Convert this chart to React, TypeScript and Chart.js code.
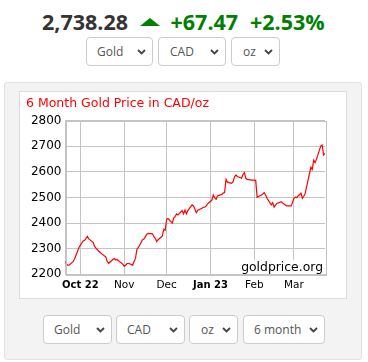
import React, { useEffect, useRef } from "react";
import { Chart, registerables } from "chart.js";

Chart.register(...registerables);

// Day offsets from 1 Oct 2022 (trading days) and the gold price in CAD/oz
const tradeDays = [
  -11, -10, -9, -8, -5, -4, -3, -2, -1,
  2, 3, 4, 5, 6, 9, 10, 11, 12, 13, 16, 17, 18, 19, 20, 23, 24, 25, 26, 27, 30,
  31, 32, 33, 34, 37, 38, 39, 40, 41, 44, 45, 46, 47, 48, 51, 52, 53, 54, 55, 58, 59, 60,
  61, 62, 65, 66, 67, 68, 69, 72, 73, 74, 75, 76, 79, 80, 81, 82, 83, 86, 87, 88, 89, 90,
  93, 94, 95, 96, 97, 100, 101, 102, 103, 104, 107, 108, 109, 110, 111, 114, 115, 116, 117, 118, 121, 122,
  123, 124, 125, 128, 129, 130, 131, 132, 135, 136, 137, 138, 139, 142, 143, 144, 145, 146, 149, 150,
  151, 152, 153, 156, 157, 158, 159, 160, 163, 164, 165, 166, 167, 170, 171, 172, 173,
];
const goldPrices = [
  2252, 2240, 2236, 2236, 2250, 2262, 2275, 2290, 2305,
  2330, 2333, 2340, 2348, 2338, 2325, 2310, 2302, 2297, 2290, 2276, 2272, 2268, 2250, 2243, 2258, 2262, 2256, 2258, 2253, 2240,
  2232, 2235, 2242, 2243, 2236, 2250, 2262, 2298, 2305, 2335, 2338, 2347, 2357, 2360, 2358, 2347, 2340, 2328, 2335, 2350, 2376, 2372,
  2415, 2418, 2400, 2420, 2425, 2436, 2432, 2449, 2436, 2451, 2436, 2449, 2471, 2467, 2455, 2441, 2450, 2458, 2462, 2462, 2467, 2475,
  2490, 2510, 2498, 2493, 2506, 2512, 2517, 2519, 2571, 2560, 2555, 2562, 2580, 2588, 2582, 2575, 2590, 2597, 2575, 2571, 2568, 2568,
  2568, 2567, 2501, 2510, 2514, 2519, 2510, 2497, 2471, 2480, 2462, 2470, 2477, 2484, 2478, 2475, 2471, 2467, 2467, 2480,
  2497, 2501, 2500, 2517, 2497, 2505, 2516, 2542, 2618, 2610, 2646, 2636, 2650, 2701, 2705, 2666, 2672,
];

const xTickDays = [0, 31, 61, 92, 123, 151];
const xTickLabels = ["Oct 22", "Nov", "Dec", "Jan 23", "Feb", "Mar"];
const xBoldTicks = [0, 92];
const yTicks = [2200, 2300, 2400, 2500, 2600, 2700, 2800];

const chartTitle = "6 Month Gold Price in CAD/oz";
const watermark = "goldprice.org";
const headerPrice = "2,738.28";
const headerChange = "+67.47";
const headerPct = "+2.53%";

const FONT = "'DejaVu Sans', Verdana, sans-serif";
const GRID = "#c4c4c4";

const frameAndMark = {
  id: "frameAndMark",
  afterDatasetsDraw(chart: any) {
    const { ctx, chartArea } = chart;
    ctx.save();
    ctx.font = `12.4px ${FONT}`;
    const w = ctx.measureText(watermark).width;
    const right = chartArea.right - 2;
    const base = chartArea.bottom - 3.5;
    ctx.fillStyle = "#ffffff";
    ctx.fillRect(right - w - 2, base - 11, w + 3, chartArea.bottom - base + 10.5);
    ctx.fillStyle = "#000000";
    ctx.textAlign = "right";
    ctx.textBaseline = "alphabetic";
    ctx.fillText(watermark, right, base);
    ctx.strokeStyle = GRID;
    ctx.lineWidth = 1;
    ctx.strokeRect(
      Math.round(chartArea.left) + 0.5,
      Math.round(chartArea.top) + 0.5,
      Math.round(chartArea.right - chartArea.left),
      Math.round(chartArea.bottom - chartArea.top)
    );
    ctx.restore();
  },
};

function Chevron() {
  return (
    <svg width="9" height="6" viewBox="0 0 9 6" style={{ display: "block" }}>
      <path d="M1 1 L4.5 4.5 L8 1" stroke="#444" strokeWidth="1.8" fill="none" />
    </svg>
  );
}

function Sel(props: { left: number; top: number; width: number; label: string; pad: number }) {
  return (
    <div
      style={{
        position: "absolute",
        left: props.left,
        top: props.top,
        width: props.width,
        height: 29,
        boxSizing: "border-box",
        border: "1px solid #cccccc",
        borderRadius: 4,
        background: "#ffffff",
        display: "flex",
        alignItems: "center",
        justifyContent: "space-between",
        paddingLeft: props.pad,
        paddingRight: 6,
        fontFamily: "'Open Sans', sans-serif",
        fontSize: 12,
        color: "#555555",
      }}
    >
      <span>{props.label}</span>
      <Chevron />
    </div>
  );
}

export default function App() {
  const canvasRef = useRef<HTMLCanvasElement | null>(null);

  useEffect(() => {
    if (!canvasRef.current) return;
    const points = tradeDays.map((d, i) => ({ x: d, y: goldPrices[i] }));
    const chart = new Chart(canvasRef.current, {
      type: "line",
      data: {
        datasets: [
          {
            data: points,
            borderColor: "#ff0000",
            borderWidth: 1.2,
            pointRadius: 0,
            tension: 0,
            fill: false,
          },
        ],
      },
      options: {
        responsive: false,
        animation: false,
        events: [],
        layout: { padding: { left: 6, right: 21, top: 0, bottom: 0 } },
        plugins: {
          legend: { display: false },
          tooltip: { enabled: false },
          title: {
            display: true,
            text: chartTitle,
            align: "start",
            color: "#ff0000",
            font: { family: FONT, size: 12.5, weight: "normal", lineHeight: 1.2 },
            padding: { top: 4, bottom: 9.7 },
          },
        },
        scales: {
          x: {
            type: "linear",
            min: -10.5,
            max: 173,
            afterBuildTicks: (axis: any) => {
              axis.ticks = xTickDays.map((v) => ({ value: v }));
            },
            afterFit: (scale: any) => {
              scale.height = 23.7;
            },
            grid: { color: GRID, drawTicks: false },
            border: { color: GRID },
            ticks: {
              autoSkip: false,
              maxRotation: 0,
              padding: 5,
              color: "#000000",
              font: (ctx: any) => {
                const v = ctx.tick ? ctx.tick.value : null;
                const bold = xBoldTicks.includes(v);
                return { family: FONT, size: bold ? 10 : 10.5, weight: bold ? "bold" : "normal" };
              },
              callback: (value: any) => {
                const i = xTickDays.indexOf(Number(value));
                return i >= 0 ? xTickLabels[i] : "";
              },
            },
          },
          y: {
            min: 2200,
            max: 2800,
            afterBuildTicks: (axis: any) => {
              axis.ticks = yTicks.map((v) => ({ value: v }));
            },
            afterFit: (scale: any) => {
              scale.width = 39.5;
            },
            grid: { color: GRID, drawTicks: false },
            border: { color: GRID },
            ticks: {
              padding: 4,
              color: "#000000",
              font: { family: FONT, size: 12 },
              callback: (value: any) => String(value),
            },
          },
        },
      },
      plugins: [frameAndMark],
    } as any);
    return () => chart.destroy();
  }, []);

  const headFont: React.CSSProperties = {
    position: "absolute",
    top: 7.2,
    fontFamily: "'Open Sans', sans-serif",
    fontWeight: 700,
    fontSize: 21.5,
    lineHeight: "30px",
    whiteSpace: "nowrap",
  };

  return (
    <div style={{ position: "absolute", left: 0, top: 0, width: 368, height: 362, background: "#ffffff" }}>
      <div style={{ ...headFont, left: 42, color: "#333333" }}>{headerPrice}</div>
      <div
        style={{
          position: "absolute",
          left: 140,
          top: 17.5,
          width: 0,
          height: 0,
          borderLeft: "10px solid transparent",
          borderRight: "10px solid transparent",
          borderBottom: "8px solid #008000",
        }}
      />
      <div style={{ ...headFont, left: 170.5, color: "#008000" }}>{headerChange}</div>
      <div style={{ ...headFont, left: 250, color: "#008000" }}>{headerPct}</div>

      <Sel left={86} top={37} width={67} label="Gold" pad={10} />
      <Sel left={158} top={37} width={68} label="CAD" pad={11} />
      <Sel left={231} top={37} width={49} label="oz" pad={11} />

      <div
        style={{
          position: "absolute",
          left: 4,
          top: 82,
          width: 358,
          height: 278,
          boxSizing: "border-box",
          background: "#f3f3f3",
          border: "1px solid #e2e2e2",
          borderRadius: 3,
        }}
      />
      <div
        style={{
          position: "absolute",
          left: 19,
          top: 91,
          width: 328,
          height: 208,
          boxSizing: "border-box",
          background: "#ffffff",
          border: "1px solid #dddddd",
        }}
      />
      <canvas
        ref={canvasRef}
        width={326}
        height={206}
        style={{ position: "absolute", left: 20, top: 92, width: 326, height: 206 }}
      />

      <Sel left={43} top={315} width={69} label="Gold" pad={10} />
      <Sel left={116} top={315} width={69} label="CAD" pad={10} />
      <Sel left={189} top={315} width={49} label="oz" pad={11} />
      <Sel left={243} top={315} width={82} label="6 month" pad={10} />
    </div>
  );
}
